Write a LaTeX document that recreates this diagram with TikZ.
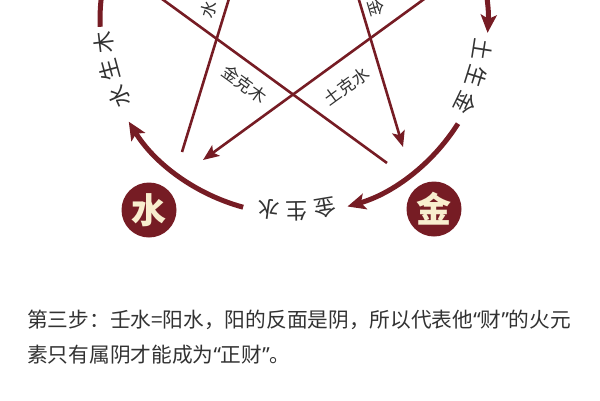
\documentclass[tikz,border=0pt]{standalone}
\usepackage{fontspec}
\setmainfont{Noto Sans CJK SC}
\newfontfamily\quotefont{Noto Sans}
\usepackage{tikz}
\usetikzlibrary{arrows.meta,positioning}
\definecolor{wxred}{RGB}{118,28,36}
\definecolor{wxcream}{RGB}{248,238,206}
\definecolor{wxgray}{RGB}{50,50,50}
\tikzset{
	element/.style={circle, fill=wxred, text=wxcream, minimum size=55pt, inner sep=0pt, font=\bfseries\fontsize{35}{35}\selectfont},
	ring/.style={draw=wxred, line width=5pt},
	chord/.style={draw=wxred, line width=2.6pt},
	bighead/.style={-{Stealth[length=18pt, width=16pt, inset=4pt]}},
	smallhead/.style={-{Stealth[length=16pt, width=13pt, inset=3.5pt]}},
	ringtxt/.style={inner sep=0pt, text=wxgray, font=\fontsize{22}{22}\selectfont},
	chordtxt/.style={inner sep=1pt, text=wxgray, font=\fontsize{17}{17}\selectfont},
	note/.style={anchor=base west, inner sep=0pt, text=wxgray, font=\fontsize{20.7}{20.7}\selectfont}
}
\newcommand{\ringlabel}[3]{
	\foreach \ch [count=\i from 0] in {#3}{
		\node[ringtxt, rotate={#2-8.5*\i-90}] (#1-\i) at ([shift={({#2-8.5*\i}:191)}]O) {\ch};
	}
}
\newcommand{\openq}{{\quotefont “}}
\newcommand{\closeq}{{\quotefont ”}}

\begin{document}
\begin{tikzpicture}[x=1pt, y=1pt]
	\useasboundingbox (0,0) rectangle (600,-400);
	\clip (0,0) rectangle (600,-400);
	\coordinate (O) at (294,-20);

	\node[element] (shui) at (149,-210) {水};
	\node[element] (jin) at (434,-209) {金};

	% sheng cycle on the ring
	\draw[ring] ([shift={(182:194)}]O) arc[start angle=182, end angle=165, radius=194];
	\draw[ring, bighead] ([shift={(15:194)}]O) arc[start angle=15, end angle=-3.8, radius=194];
	\draw[ring, bighead] ([shift={(-32.3:194)}]O) arc[start angle=-32.3, end angle=-74, radius=194];
	\draw[ring, bighead] ([shift={(-105.2:194)}]O) arc[start angle=-105.2, end angle=-148.4, radius=194];

	\ringlabel{shengmu}{203.7}{水,生,木}
	\ringlabel{shengjin}{-8.8}{土,生,金}
	\ringlabel{shengshui}{-80.6}{金,生,水}

	% ke cycle across
	\coordinate (mu-top) at (136,20);
	\coordinate (jin-end) at (387,-163);
	\coordinate (shui-end) at (182,-152);
	\coordinate (huo-top) at (234.7,20);
	\coordinate (huo-top2) at (353,20);
	\coordinate (jin-tip) at (403,-147);
	\coordinate (tu-top) at (450.3,20);
	\coordinate (shui-tip) at (203,-160);

	\draw[chord] (mu-top) -- node[chordtxt, sloped, pos=0.48, below=10pt] (jinkemu) {金克木} (jin-end);
	\draw[chord] (shui-end) -- node[chordtxt, sloped, pos=0.8, above=5.5pt] (shuikehuo) {水} (huo-top);
	\draw[chord, smallhead] (huo-top2) -- node[chordtxt, sloped, pos=0.19, above=5pt] (huokejin) {金} (jin-tip);
	\draw[chord, smallhead] (tu-top) -- node[chordtxt, sloped, pos=0.48, below=15pt] (tukeshui) {土克水} (shui-tip);

	% caption
	\node[note] (step3) at (27,-327.6) {第三步：壬水=阳水，阳的反面是阴，所以代表他\openq 财\closeq 的火元};
	\node[note] (step3b) at (27,-362.6) {素只有属阴才能成为\openq 正财\closeq 。};
\end{tikzpicture}
\end{document}
